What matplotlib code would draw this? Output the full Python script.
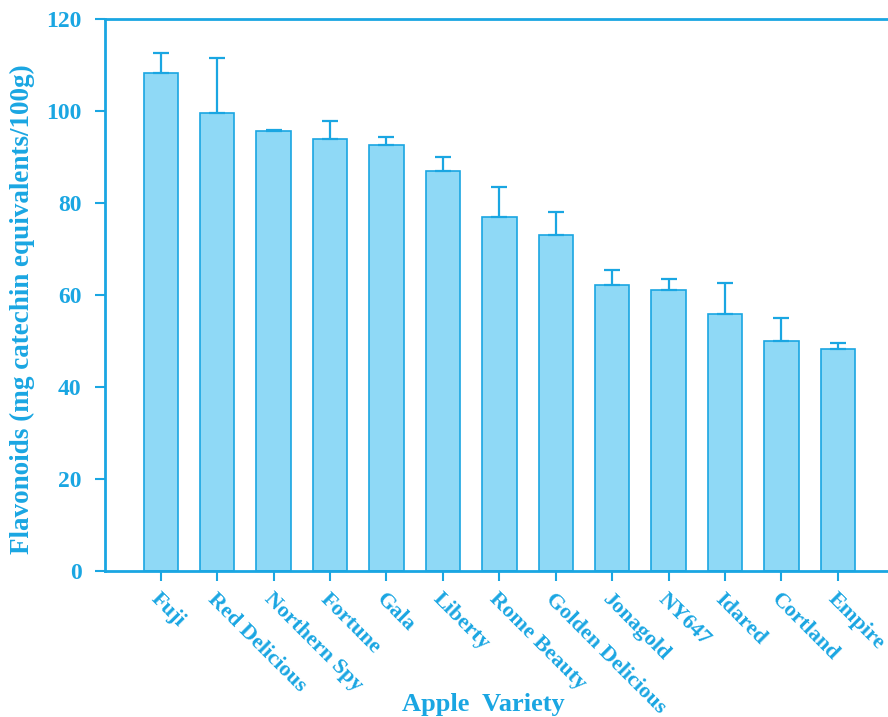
import matplotlib
matplotlib.use("Agg")
import matplotlib.pyplot as plt
import numpy as np

varieties = ["Fuji", "Red Delicious", "Northern Spy", "Fortune", "Gala", "Liberty",
             "Rome Beauty", "Golden Delicious", "Jonagold", "NY647", "Idared",
             "Cortland", "Empire"]
flavonoids = [108.2, 99.6, 95.7, 94.0, 92.6, 86.9, 77.0, 73.0, 62.1, 61.1, 55.8, 49.9, 48.3]
std_err = [4.5, 12.0, 0.2, 3.9, 1.7, 3.2, 6.5, 5.1, 3.4, 2.4, 6.8, 5.0, 1.3]
y_ticks = [0, 20, 40, 60, 80, 100, 120]

ink = "#1aa6e2"
fill = "#8fd9f6"
font = "Liberation Serif"

fig = plt.figure(figsize=(8.88, 7.17), dpi=100)
ax = fig.add_axes([105 / 888, 1 - 571 / 717, 1 - 105 / 888, (571 - 19) / 717])

x = np.arange(len(varieties))
ax.bar(x, flavonoids, width=0.61, color=fill, edgecolor=ink, linewidth=1.2, zorder=2)
ax.errorbar(x, flavonoids, yerr=[np.zeros(len(std_err)), std_err], fmt="none",
            ecolor=ink, elinewidth=1.6, capsize=5.8, capthick=1.6, zorder=3)

ax.set_xlim(-0.99, 12.89)
ax.set_ylim(0, 120)
ax.set_yticks(y_ticks)
ax.set_xticks(x)
ax.set_xticklabels(varieties, rotation=-45, ha="left", va="top",
                   rotation_mode="anchor", fontsize=16, fontweight="bold",
                   family=font, color=ink)
for lbl in ax.get_yticklabels():
    lbl.set_fontsize(17)
    lbl.set_fontweight("bold")
    lbl.set_family(font)
    lbl.set_color(ink)

ax.tick_params(axis="both", direction="out", color=ink, width=1.5, length=7)
ax.tick_params(axis="x", pad=6)
ax.tick_params(axis="y", pad=10)

for side in ["left", "top", "bottom"]:
    ax.spines[side].set_color(ink)
    ax.spines[side].set_linewidth(2)
ax.spines["right"].set_visible(False)

ax.set_ylabel("Flavonoids (mg catechin equivalents/100g)", fontsize=19.5,
              fontweight="bold", family=font, color=ink)
ax.yaxis.set_label_coords(-0.089, 0.475)
fig.text(483 / 888, 1 - 705 / 717, "Apple  Variety", ha="center", va="center",
         fontsize=19, fontweight="bold", family=font, color=ink)

fig.savefig("out.png", dpi=100)
